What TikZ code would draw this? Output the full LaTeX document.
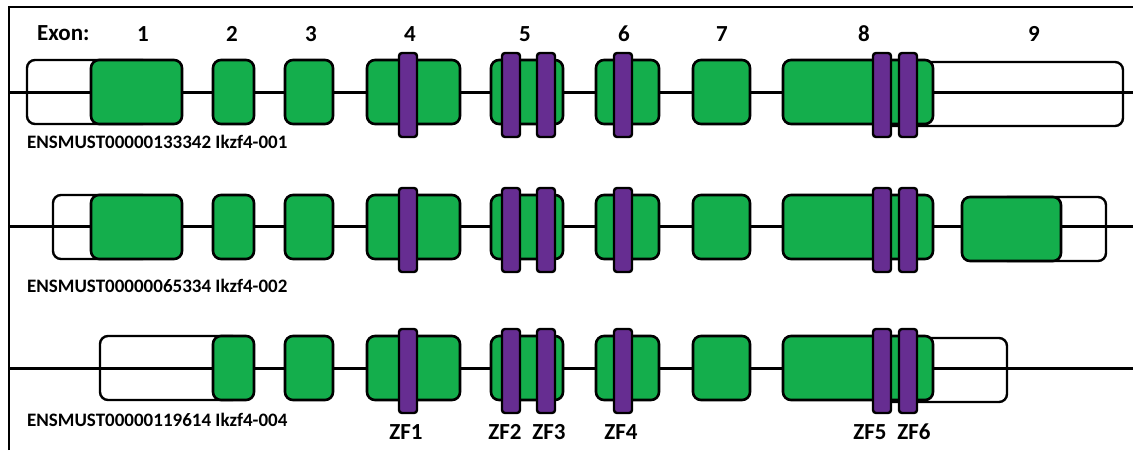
\documentclass[tikz,border=0pt]{standalone}
\usepackage{fontspec}
\setmainfont{Carlito}
\usepackage{tikz}
\usetikzlibrary{positioning}
\definecolor{exongreen}{RGB}{20,174,76}
\definecolor{zfpurple}{RGB}{102,45,145}

\begin{document}
\begin{tikzpicture}[x=1pt, y=-1pt]
	\tikzstyle{utr}=[draw=black, line width=2.4pt, rounded corners=8pt, inner sep=0pt, minimum height=64pt]
	\tikzstyle{exon}=[utr, line width=2.6pt, fill=exongreen]
	\tikzstyle{zf}=[draw=black, line width=2.4pt, rounded corners=3pt, fill=zfpurple, inner sep=0pt, minimum width=18pt, minimum height=84pt]
	\tikzstyle{big}=[font=\fontsize{23}{27}\selectfont\bfseries, inner sep=0pt]
	\tikzstyle{tname}=[font=\fontsize{19}{22}\selectfont\bfseries, anchor=west, inner sep=0pt]
	\useasboundingbox (0,0) rectangle (1133,450);
	% frame
	\draw[line width=2pt] (9,450) -- (9,7) -- (1133,7);
	% gene lines
	\foreach \row/\y in {a/92, b/226, c/368} {
		\coordinate (\row-start) at (9,\y);
		\coordinate (\row-end) at (1133,\y);
		\draw[line width=3pt] (\row-start) -- (\row-end);
	}
	% untranslated parts
	\node[utr, minimum width=123pt] (a-u1) at (88.5,92) {};
	\node[utr, minimum width=243pt] (a-u9) at (1001.5,94) {};
	\node[utr, minimum width=97pt] (b-u1) at (101.5,227) {};
	\node[utr, minimum width=106pt] (b-u9) at (1053,229) {};
	\node[utr, minimum width=140pt] (c-u2) at (170,368) {};
	\node[utr, minimum width=127pt] (c-u8) at (943.5,370) {};
	% exons found in one or two rows only
	\node[exon, minimum width=91pt] (a-e1) at (136.5,92) {};
	\node[exon, minimum width=91pt] (b-e1) at (136.5,227) {};
	\node[exon, minimum width=99pt] (b-e9) at (1011.5,229) {};
	% exons 2 to 8
	\foreach \row/\y in {a/92, b/227, c/368} {
		\foreach \nm/\l/\r in {e2/213/254, e3/285/333, e4/367/460, e5/491/563, e6/596/659, e7/693/750, e8/783/933}
			\node[exon, minimum width={(\r-\l)*1pt}] (\row-\nm) at ({(\l+\r)/2},\y) {};
		\foreach \k/\x in {1/408, 2/511, 3/546, 4/623, 5/882, 6/908}
			\node[zf] (\row-zf\k) at (\x,\y+3) {};
	}
	% labels
	\node[big, anchor=west] (exon) at (37,33) {Exon:};
	\foreach \k/\x in {1/143, 2/232, 3/311, 4/410, 5/525, 6/624, 7/722, 8/864, 9/1034}
		\node[big] (num\k) at (\x,34) {\k};
	\node[tname] (a-name) at (27,142) {ENSMUST00000133342 Ikzf4-001};
	\node[tname] (b-name) at (27,286) {ENSMUST00000065334 Ikzf4-002};
	\node[tname] (c-name) at (27,420) {ENSMUST00000119614 Ikzf4-004};
	\foreach \k/\x in {1/406, 2/505, 3/549, 4/621, 5/870, 6/914}
		\node[big] (zfname\k) at (\x,432) {ZF\k};
\end{tikzpicture}
\end{document}
